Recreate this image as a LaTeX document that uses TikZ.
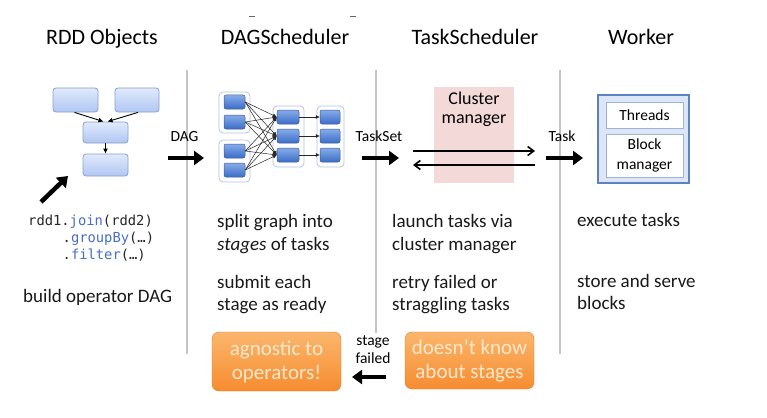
\documentclass[tikz,border=0pt]{standalone}
\usepackage{fontspec}
\setmainfont{Carlito}
\newfontfamily\codefont{DejaVu Sans Mono}
\usetikzlibrary{arrows.meta}
\definecolor{sepgray}{RGB}{196,196,196}
\definecolor{rddtop}{RGB}{224,234,252}
\definecolor{rddbot}{RGB}{176,198,242}
\definecolor{rddedge}{RGB}{140,160,200}
\definecolor{smtop}{RGB}{135,172,232}
\definecolor{smbot}{RGB}{58,108,200}
\definecolor{smedge}{RGB}{60,90,150}
\definecolor{grpedge}{RGB}{182,196,220}
\definecolor{pinkbg}{RGB}{243,218,216}
\definecolor{workfill}{RGB}{220,230,246}
\definecolor{workedge}{RGB}{92,130,195}
\definecolor{innedge}{RGB}{160,180,215}
\definecolor{orgtop}{RGB}{251,182,108}
\definecolor{orgbot}{RGB}{246,140,48}
\definecolor{orgtext}{RGB}{253,232,205}
\definecolor{codeblue}{RGB}{72,110,200}
\tikzset{
  sepline/.style={draw=sepgray, line width=1.8pt},
  head/.style={font=\fontsize{22}{26}\selectfont, anchor=base, inner sep=0pt},
  body/.style={font=\fontsize{19}{23}\selectfont, anchor=base west, inner sep=0pt, text=black!90},
  lbl/.style={font=\fontsize{15.5}{18}\selectfont, anchor=base, inner sep=0pt},
  code/.style={font=\codefont\fontsize{13.8}{16}\selectfont, anchor=base west, inner sep=0pt, text=black!85},
  rddbox/.style={draw=rddedge, line width=0.8pt, rounded corners=3pt, top color=rddtop, bottom color=rddbot, inner sep=0pt},
  grpbox/.style={draw=grpedge, line width=0.8pt, rounded corners=4pt, fill=white, inner sep=0pt},
  smbox/.style={draw=smedge, line width=0.5pt, rounded corners=2pt, top color=smtop, bottom color=smbot, inner sep=0pt, minimum height=14pt},
  bigarrow/.style={draw=black, line width=4.5pt, -{Triangle[length=10pt,width=14pt]}},
  thinarrow/.style={draw=black, line width=0.9pt, -{Latex[length=5pt,width=5pt]}},
  webarrow/.style={draw=black!85, line width=0.5pt, -{Latex[length=4pt,width=4pt]}},
  cmarrow/.style={draw=black, line width=1.6pt, -{Straight Barb[length=6pt,width=9pt]}},
  orgbox/.style={draw=orgbot!90!black, line width=0.4pt, rounded corners=7pt, top color=orgtop, bottom color=orgbot, inner sep=0pt, text=orgtext, align=center, font=\fontsize{21}{24}\selectfont},
  inbox/.style={draw=innedge, line width=0.8pt, fill=white, inner sep=0pt, align=center, font=\fontsize{15.5}{20}\selectfont}
}
\begin{document}
\begin{tikzpicture}[x=1pt,y=-1pt]
\useasboundingbox (0,0) rectangle (767,417);
\fill[white] (0,0) rectangle (767,417);

% top dashes
\draw[black!60, line width=0.9pt] (249,16) -- (255,16);
\draw[black!60, line width=0.9pt] (350,16) -- (356,16);

% separators
\coordinate (s1t) at (187,70); \coordinate (s1b) at (187,354);
\coordinate (s2t) at (376,70); \coordinate (s2b) at (376,333);
\coordinate (s3t) at (560,70); \coordinate (s3b) at (560,354);
\draw[sepline] (s1t) -- (s1b);
\draw[sepline] (s2t) -- (s2b);
\draw[sepline] (s3t) -- (s3b);

% headings
\node[head] (h1) at (102,45) {RDD Objects};
\node[head] (h2) at (285,45) {DAGScheduler};
\node[head] (h3) at (475,45) {TaskScheduler};
\node[head] (h4) at (641,45) {Worker};

% RDD objects
\node[rddbox, minimum width=45pt, minimum height=24pt] (ra) at (75.5,100) {};
\node[rddbox, minimum width=44pt, minimum height=24pt] (rb) at (137,100) {};
\node[rddbox, minimum width=45pt, minimum height=21pt] (rc) at (105.5,132.5) {};
\node[rddbox, minimum width=45pt, minimum height=22pt] (rd) at (105.5,165) {};
\draw[thinarrow] ([xshift=-1pt]ra.south) -- ([xshift=-2pt]rc.north);
\draw[thinarrow] ([xshift=1pt]rb.south) -- ([xshift=2pt]rc.north);
\draw[thinarrow] (rc.south) -- (rd.north);

\coordinate (ptail) at (41,202);
\coordinate (phead) at (68,176);
\draw[bigarrow] (ptail) -- (phead);

\node[code] (c1) at (28,225) {rdd1.\textcolor{codeblue}{join}(rdd2)};
\node[code] (c2) at (62.5,242) {.\textcolor{codeblue}{groupBy}(…)};
\node[code] (c3) at (62.5,259) {.\textcolor{codeblue}{filter}(…)};
\node[body] (t1) at (23,302) {build operator DAG};

% DAG arrow
\node[lbl] (ldag) at (184.5,141) {DAG};
\coordinate (da1) at (168,158); \coordinate (da2) at (204,158);
\draw[bigarrow] (da1) -- (da2);

% DAGScheduler graph
\node[grpbox, minimum width=31pt, minimum height=41pt] (g1) at (234.5,112.5) {};
\node[grpbox, minimum width=31pt, minimum height=42pt] (g2) at (234.5,161) {};
\node[grpbox, minimum width=31pt, minimum height=61pt] (g3) at (288.5,136.5) {};
\node[grpbox, minimum width=27pt, minimum height=61pt] (g4) at (330.5,136.5) {};
\node[smbox, minimum width=21pt] (a1) at (234.5,102) {};
\node[smbox, minimum width=21pt] (a2) at (234.5,122) {};
\node[smbox, minimum width=21pt] (a3) at (234.5,151) {};
\node[smbox, minimum width=21pt] (a4) at (234.5,170) {};
\node[smbox, minimum width=22pt] (b1) at (288,117) {};
\node[smbox, minimum width=22pt] (b2) at (288,136) {};
\node[smbox, minimum width=22pt] (b3) at (288,155) {};
\node[smbox, minimum width=20pt] (d1) at (330,117) {};
\node[smbox, minimum width=20pt] (d2) at (330,136) {};
\node[smbox, minimum width=20pt] (d3) at (330,155) {};
\foreach \s in {a1,a2,a3,a4}{
  \foreach \t in {b1,b2,b3}{
    \draw[webarrow] (\s.east) -- (\t.west);
  }
}
\draw[webarrow] (b1.east) -- (d1.west);
\draw[webarrow] (b2.east) -- (d2.west);
\draw[webarrow] (b3.east) -- (d3.west);

\node[body] (t2) at (217,227) {split graph into};
\node[body] (t3) at (217,250) {\textit{stages} of tasks};
\node[body] (t4) at (217,288) {submit each};
\node[body] (t5) at (217,310) {stage as ready};

% TaskSet arrow
\node[lbl] (lts) at (379,141) {TaskSet};
\coordinate (ta1) at (362,158); \coordinate (ta2) at (399,158);
\draw[bigarrow] (ta1) -- (ta2);

% Cluster manager
\node[fill=pinkbg, minimum width=80pt, minimum height=96pt, inner sep=0pt] (cm) at (474,135) {};
\node[font=\fontsize{18}{22}\selectfont, anchor=base, inner sep=0pt] (cm1) at (474,104) {Cluster};
\node[font=\fontsize{18}{22}\selectfont, anchor=base, inner sep=0pt] (cm2) at (474,123) {manager};
\coordinate (cl1) at (413,151); \coordinate (cr1) at (535,151);
\coordinate (cl2) at (413,165); \coordinate (cr2) at (535,165);
\draw[cmarrow] (cl1) -- (cr1);
\draw[cmarrow] (cr2) -- (cl2);

\node[body] (t6) at (392,227) {launch tasks via};
\node[body] (t7) at (392,250) {cluster manager};
\node[body] (t8) at (392,288) {retry failed or};
\node[body] (t9) at (392,310) {straggling tasks};

% Task arrow
\node[lbl] (ltk) at (562,141) {Task};
\coordinate (wa1) at (546,158); \coordinate (wa2) at (583,158);
\draw[bigarrow] (wa1) -- (wa2);

% Worker
\node[draw=workedge, line width=2pt, fill=workfill, minimum width=91pt, minimum height=88pt, inner sep=0pt] (wk) at (643.5,139) {};
\node[inbox, minimum width=77pt, minimum height=26pt] (thr) at (644.5,115) {Threads};
\node[inbox, minimum width=77pt, minimum height=43pt] (blk) at (644.5,155.5) {Block\\manager};

\node[body] (t10) at (577,226) {execute tasks};
\node[body] (t11) at (577,287) {store and serve};
\node[body] (t12) at (577,309) {blocks};

% bottom boxes
\node[orgbox, minimum width=129pt, minimum height=59pt] (o1) at (276.5,361.5) {agnostic to\\operators!};
\node[orgbox, minimum width=129pt, minimum height=57pt] (o2) at (469.5,360.5) {doesn’t know\\about stages};
\node[lbl] (sf1) at (373,345) {stage};
\node[lbl] (sf2) at (373,363) {failed};
\coordinate (fa1) at (386,377); \coordinate (fa2) at (352,377);
\draw[bigarrow] (fa1) -- (fa2);
\end{tikzpicture}
\end{document}
